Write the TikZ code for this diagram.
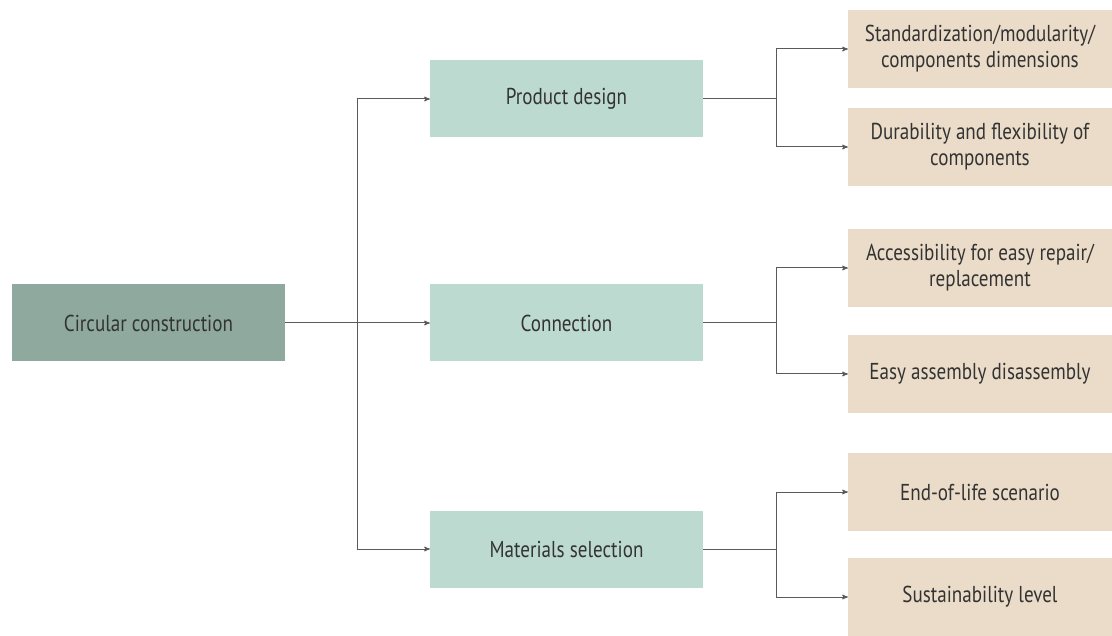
\documentclass[tikz,border=0pt]{standalone}
\usepackage{fontspec}
\setmainfont{PT Sans}[FakeStretch=0.83]
\usetikzlibrary{arrows}
\usetikzlibrary{calc}
\definecolor{rootgreen}{HTML}{8FA99F}
\definecolor{midgreen}{HTML}{BDDAD0}
\definecolor{leafsand}{HTML}{EADCC8}
\definecolor{linegrey}{HTML}{5A5A5A}
\definecolor{textgrey}{HTML}{333333}

\begin{document}
\begin{tikzpicture}[x=1pt, y=-1pt,
  box/.style={minimum height=77pt, inner sep=0pt, text=textgrey,
    font=\fontsize{23}{26}\selectfont, align=center},
  rootbox/.style={box, fill=rootgreen, minimum width=273pt},
  midbox/.style={box, fill=midgreen, minimum width=273pt},
  leafbox/.style={box, fill=leafsand, minimum width=264pt, minimum height=78pt},
  link/.style={linegrey, line width=1pt},
  >=stealth']
\useasboundingbox (0,0) rectangle (1112,636);
% root and the three areas
\node[rootbox] (root) at (148.5,323) {Circular construction};
\node[midbox] (design) at (566.5,99) {Product design};
\node[midbox] (conn) at (566.5,323) {Connection};
\node[midbox] (mat) at (566.5,549) {Materials selection};
% criteria
\node[leafbox] (std) at (980,49) {Standardization/modularity/\\components dimensions};
\node[leafbox] (dur) at (980,147) {Durability and flexibility of\\components};
\node[leafbox] (acc) at (980,268) {Accessibility for easy repair/\\replacement};
\node[leafbox] (easy) at (980,374) {Easy assembly disassembly};
\node[leafbox] (eol) at (980,492) {End-of-life scenario};
\node[leafbox] (sus) at (980,597) {Sustainability level};
% trunk
\coordinate (trunk) at (357,323);
\draw[link] (root.east) -- (trunk);
\draw[link] (trunk |- design.west) -- (trunk |- mat.west);
\foreach \m in {design,conn,mat} {
  \draw[link, ->] (trunk |- \m.west) -- (\m.west);
}
% forks to the criteria
\coordinate (fork) at (776,0);
\foreach \m/\a/\b in {design/std/dur, conn/acc/easy, mat/eol/sus} {
  \draw[link] (\m.east) -- (fork |- \m.east);
  \draw[link] (fork |- \a.west) -- (fork |- \b.west);
  \draw[link, ->] (fork |- \a.west) -- (\a.west);
  \draw[link, ->] (fork |- \b.west) -- (\b.west);
}
\end{tikzpicture}
\end{document}
